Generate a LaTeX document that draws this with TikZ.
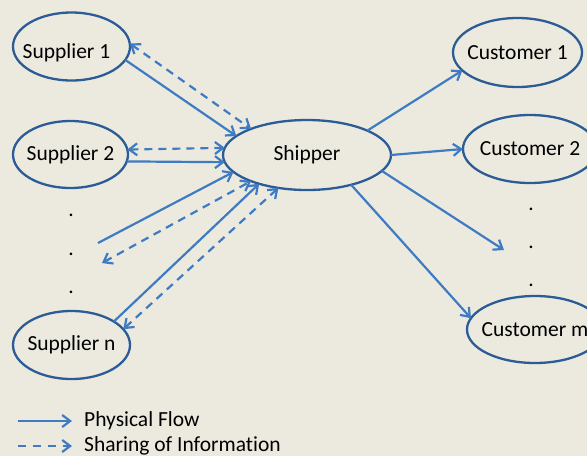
\documentclass[tikz,border=0pt]{standalone}
\usepackage{fontspec}
\setmainfont{Carlito}[Ligatures={NoCommon}]
\usetikzlibrary{arrows.meta,shapes.geometric,positioning}
\definecolor{bgpaper}{HTML}{ECEADF}
\definecolor{rimblue}{HTML}{2B5C96}
\definecolor{flowblue}{HTML}{3E7BC2}
\newcommand{\partytext}[1]{\makebox[0pt]{#1}}

\begin{document}
\begin{tikzpicture}[
    x=1pt, y=-1pt,
    party/.style={ellipse, draw=rimblue, line width=2.3pt, inner sep=0pt, outer sep=0pt, font=\fontsize{21.5}{25}\selectfont},
    dot/.style={inner sep=0pt, font=\fontsize{21.5}{25}\selectfont},
    flow/.style={-{Straight Barb[length=8pt, width=12pt, line width=2.2pt]}, line width=2.2pt, flowblue},
    info/.style={{Straight Barb[length=8pt, width=12pt, line width=2.2pt]}-{Straight Barb[length=8pt, width=12pt, line width=2.2pt]}, line width=2.2pt, flowblue, dash pattern=on 8pt off 6pt},
    legtext/.style={anchor=west, inner xsep=12pt, inner ysep=0pt, font=\fontsize{21.5}{25}\selectfont}
]
\fill[bgpaper] (0,0) rectangle (587,456);
\useasboundingbox (0,0) rectangle (587,456);

% suppliers
\node[party, minimum width=117pt, minimum height=68pt] (sup1) at (71.5,46.5) {\partytext{\hspace*{-10pt}\raisebox{-6pt}[\height][\depth]{Supplier 1}}};
\node[party, minimum width=115pt, minimum height=67pt] (sup2) at (70.5,154.5) {\partytext{Supplier 2}};
\node[party, minimum width=117pt, minimum height=68pt] (supn) at (71.5,345) {\partytext{Supplier n}};
\node[dot] (ldot1) at (71,215) {.};
\node[dot] (ldot2) at (71,254) {.};
\node[dot] (ldot3) at (71,292) {.};

% shipper
\node[party, minimum width=168pt, minimum height=70pt] (ship) at (307,155) {\partytext{Shipper}};

% customers
\node[party, minimum width=129pt, minimum height=69pt] (cust1) at (517.5,52.5) {\partytext{Customer 1}};
\node[party, minimum width=134pt, minimum height=68pt] (cust2) at (530,149) {\partytext{Customer 2}};
\node[party, minimum width=136pt, minimum height=67pt] (custm) at (535,329.5) {\partytext{Customer m}};
\node[dot] (rdot1) at (531,209) {.};
\node[dot] (rdot2) at (531,247) {.};
\node[dot] (rdot3) at (531,285) {.};

\coordinate (lflow) at (98,243);
\coordinate (linfo) at (102,263);
\coordinate (rflow) at (504,250);

% physical flow
\draw[flow] (sup1.-14) -- (ship.165.6);
\draw[flow] (sup2.-7) -- (ship.-175.3);
\draw[flow] (lflow) -- (ship.193.7);
\draw[flow] (supn.29) -- (ship.211.5);
\draw[flow] (ship.22.6) -- (cust1.-162.5);
\draw[flow] (ship.0) -- (cust2.180);
\draw[flow] (ship.-12.6) -- (rflow);
\draw[flow] (ship.-34) -- (custm.170.4);

% sharing of information
\draw[info] (sup1.3.3) -- (ship.155.8);
\draw[info] (sup2.5.3) -- (ship.175.2);
\draw[info] (linfo) -- (ship.205.4);
\draw[info] (supn.17.1) -- (ship.229.4);

% legend
\coordinate (legA) at (18,421);
\coordinate (legB) at (18,446);
\node[legtext] (phys) at (72,421) {Physical Flow};
\node[legtext] (share) at (72,446) {Sharing of Information};
\draw[flow] (legA) -- (phys.west);
\draw[-{Straight Barb[length=8pt, width=12pt, line width=2.2pt]}, line width=2.2pt, flowblue, dash pattern=on 8pt off 7pt] (legB) -- (share.west);
\end{tikzpicture}
\end{document}
